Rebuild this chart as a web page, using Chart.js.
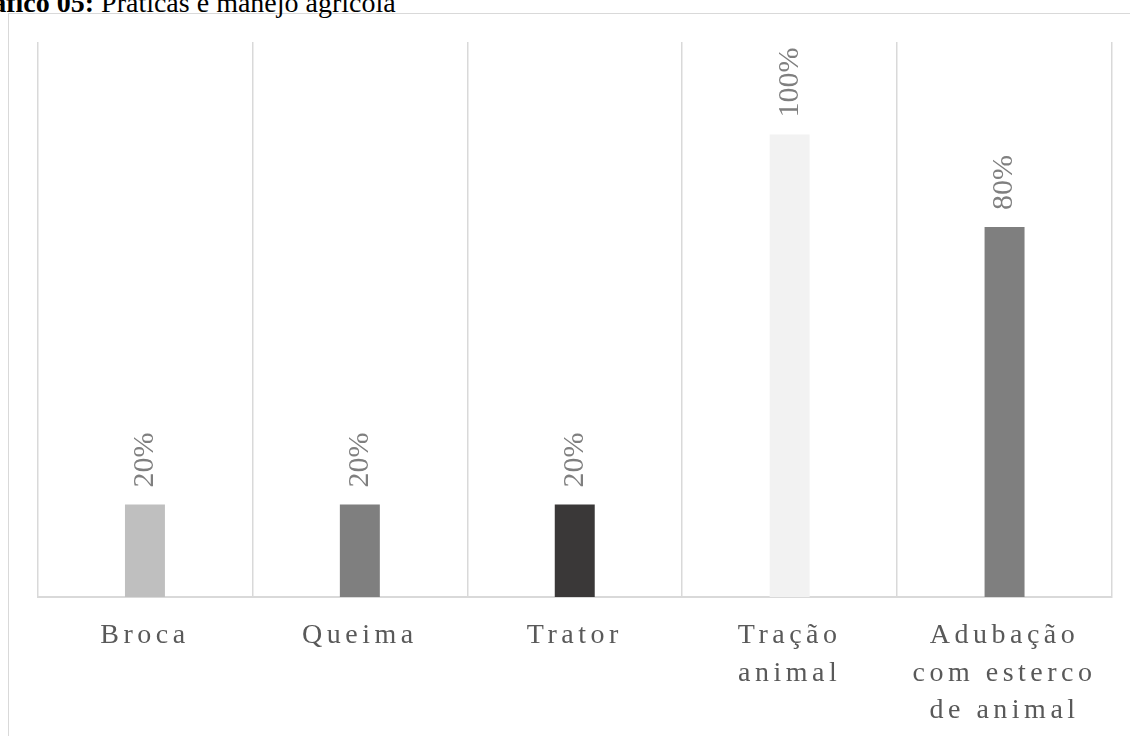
<!DOCTYPE html>
<html lang="pt">
<head>
    <meta charset="UTF-8">
    <title>Práticas e manejo agrícola</title>
    <script src="https://cdn.jsdelivr.net/npm/chart.js"></script>
    <style>
        html, body { margin: 0; padding: 0; background: #fff; overflow: hidden; }
        #frame {
            position: absolute; left: 8px; top: 13px;
            width: 1300px; height: 900px;
            border: 1.5px solid #d9d9d9;
        }
        #titulo {
            position: absolute; left: -42px; top: -11px;
            font-family: "Liberation Serif", "Times New Roman", serif;
            font-size: 28px; line-height: 28px; color: #000;
            white-space: nowrap;
        }
        #grafico { position: absolute; left: 0; top: 0; }
    </style>
</head>
<body>
    <div id="frame"></div>
    <div id="titulo"><b>Gráfico 05:</b> Práticas e manejo agrícola</div>
    <canvas id="grafico" width="1130" height="736"></canvas>

    <script>
// categorias e percentuais
const categorias = ['Broca', 'Queima', 'Trator', ['Tração', 'animal'], ['Adubação', 'com esterco', 'de animal']];
const percentuais = [20, 20, 20, 100, 80];
const coresBarras = ['#bfbfbf', '#7f7f7f', '#3a3838', '#f2f2f2', '#7f7f7f'];

// rótulos de valor girados acima de cada barra
const rotulosValor = {
    id: 'rotulosValor',
    beforeDraw(chart) {
        chart.ctx.letterSpacing = '4.5px';
    },
    afterDatasetsDraw(chart) {
        const ctx = chart.ctx;
        const meta = chart.getDatasetMeta(0);
        ctx.save();
        ctx.letterSpacing = '0px';
        ctx.font = '30px "Liberation Serif", serif';
        ctx.fillStyle = '#7f7f7f';
        ctx.textAlign = 'left';
        ctx.textBaseline = 'middle';
        meta.data.forEach((bar, i) => {
            ctx.save();
            ctx.translate(bar.x, bar.y - 17);
            ctx.rotate(-Math.PI / 2);
            ctx.fillText(percentuais[i] + '%', 0, 0);
            ctx.restore();
        });
        ctx.restore();
    },
    afterDraw(chart) {
        chart.ctx.letterSpacing = '0px';
    }
};

new Chart(document.getElementById('grafico'), {
    type: 'bar',
    data: {
        labels: categorias,
        datasets: [{
            data: percentuais,
            backgroundColor: coresBarras,
            borderWidth: 0,
            categoryPercentage: 1,
            barPercentage: 0.186
        }]
    },
    options: {
        responsive: false,
        animation: false,
        layout: { padding: { left: 37.5, right: 18, top: 42, bottom: 0 } },
        plugins: {
            legend: { display: false },
            tooltip: { enabled: false }
        },
        scales: {
            x: {
                offset: true,
                grid: {
                    offset: true,
                    color: '#d9d9d9',
                    lineWidth: 1.5,
                    drawTicks: false
                },
                border: { color: '#d9d9d9', width: 2 },
                ticks: {
                    padding: 20,
                    color: '#595959',
                    font: { family: '"Liberation Serif", serif', size: 28, lineHeight: 1.34 },
                    maxRotation: 0,
                    autoSkip: false
                },
                afterFit(scale) {
                    scale.height = 139;
                }
            },
            y: {
                display: false,
                min: 0,
                max: 120
            }
        }
    },
    plugins: [rotulosValor]
});
    </script>
</body>
</html>
